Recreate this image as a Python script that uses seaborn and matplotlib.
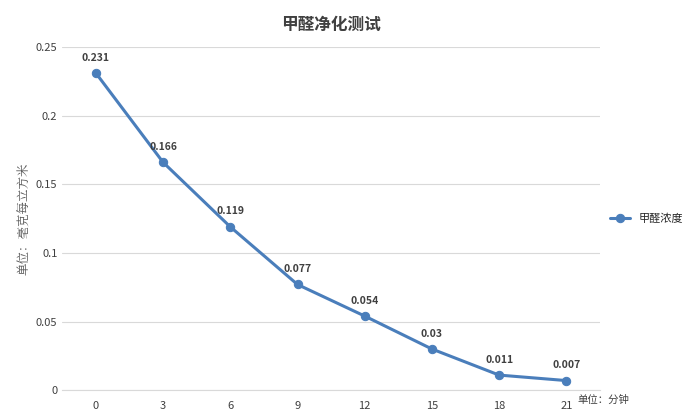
import matplotlib
matplotlib.use("Agg")
import matplotlib.pyplot as plt
import seaborn as sns
import pandas as pd

minutes = ["0", "3", "6", "9", "12", "15", "18", "21"]
values = [0.231, 0.166, 0.119, 0.077, 0.054, 0.03, 0.011, 0.007]
labels = ["0.231", "0.166", "0.119", "0.077", "0.054", "0.03", "0.011", "0.007"]

sns.set_style("white")
plt.rcParams["font.family"] = ["Noto Sans CJK SC", "DejaVu Sans"]

df = pd.DataFrame({"minute": minutes, "value": values, "pos": range(len(minutes))})

fig = plt.figure(figsize=(7, 4.2), dpi=100)
ax = fig.add_axes([0.089, 0.071, 0.768, 0.817])
color = "#4a7ebb"
sns.lineplot(data=df, x="pos", y="value", ax=ax, color=color, linewidth=2.2,
             marker="o", markersize=6, markeredgecolor=color, label="甲醛浓度")
for x, y, t in zip(df["pos"], values, labels):
    ax.annotate(t, (x, y), xytext=(0, 9), textcoords="offset points",
                ha="center", fontsize=7.5, fontweight="bold", color="#404040")

ax.set_xlim(-0.5, len(minutes) - 0.5)
ax.set_ylim(0, 0.25)
ax.set_xticks(range(len(minutes)), minutes)
ax.set_yticks([0, 0.05, 0.1, 0.15, 0.2, 0.25], ["0", "0.05", "0.1", "0.15", "0.2", "0.25"])
ax.tick_params(labelsize=8, colors="#404040", length=0)
ax.tick_params(axis="x", pad=8)
ax.grid(axis="y", color="#d9d9d9", linewidth=0.8)
for s in ["top", "right", "left"]:
    ax.spines[s].set_visible(False)
ax.spines["bottom"].set_color("#d9d9d9")
ax.set_xlabel("")
ax.set_ylabel("单位：毫克每立方米", fontsize=9, color="#595959", family=["Noto Serif CJK SC", "Noto Sans CJK SC"])
ax.set_title("甲醛净化测试", fontsize=12, fontweight="bold", color="#404040", pad=12)
fig.text(0.825, 0.04, "单位：分钟", fontsize=7.5, color="#404040")
ax.legend(loc="center left", bbox_to_anchor=(1.0, 0.5), frameon=False, fontsize=8,
          handlelength=1.8)

fig.savefig("out.png", dpi=100)
